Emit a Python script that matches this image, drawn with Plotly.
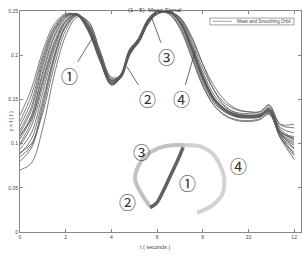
import plotly.graph_objects as go

# ---- data ----
t = [0, 0.5, 1, 1.5, 2, 2.5, 3, 3.5, 4, 4.4, 4.8, 5.2, 5.6, 6, 6.5, 7, 7.5, 8, 8.5, 9, 9.5, 10, 10.5, 10.9, 11.4, 12]

signals = [
    [.070,.078,.118,.178,.222,.243,.238,.205,.174,.174,.200,.215,.236,.247,.249,.242,.222,.190,.160,.142,.134,.132,.133,.139,.110,.088],
    [.080,.095,.140,.195,.232,.245,.235,.202,.172,.176,.203,.218,.239,.249,.249,.236,.206,.172,.148,.136,.131,.130,.131,.137,.112,.095],
    [.088,.105,.150,.200,.234,.246,.234,.200,.170,.178,.206,.216,.237,.248,.250,.238,.210,.176,.151,.139,.133,.132,.132,.140,.116,.105],
    [.094,.112,.158,.206,.237,.246,.231,.198,.168,.175,.204,.219,.240,.249,.247,.230,.198,.165,.143,.131,.126,.125,.127,.133,.106,.082],
    [.098,.120,.165,.210,.238,.246,.232,.201,.171,.177,.203,.214,.235,.247,.250,.241,.214,.181,.155,.141,.135,.134,.134,.141,.118,.112],
    [.100,.125,.172,.215,.240,.247,.230,.197,.168,.174,.200,.217,.237,.248,.249,.237,.208,.174,.149,.137,.131,.130,.131,.136,.110,.098],
    [.105,.130,.178,.220,.242,.246,.229,.196,.169,.176,.205,.220,.241,.250,.248,.233,.203,.169,.146,.135,.130,.129,.130,.135,.107,.090],
    [.108,.132,.182,.222,.243,.247,.231,.199,.172,.178,.207,.218,.238,.248,.250,.239,.212,.178,.152,.139,.133,.132,.133,.139,.114,.104],
    [.112,.138,.188,.226,.244,.246,.228,.195,.167,.175,.202,.216,.236,.247,.249,.243,.220,.190,.165,.148,.139,.136,.136,.143,.121,.118],
    [.115,.142,.192,.228,.245,.246,.229,.197,.169,.176,.203,.217,.238,.248,.249,.236,.207,.173,.148,.136,.130,.129,.130,.136,.111,.100],
    [.120,.148,.196,.230,.245,.245,.228,.196,.168,.177,.204,.215,.236,.247,.249,.239,.211,.177,.151,.138,.132,.131,.132,.138,.113,.106],
    [.125,.155,.200,.232,.246,.245,.227,.194,.167,.174,.201,.216,.237,.248,.249,.237,.209,.175,.150,.137,.131,.130,.131,.137,.109,.094],
    [.132,.162,.205,.235,.247,.245,.226,.193,.166,.175,.205,.219,.240,.249,.247,.232,.200,.166,.143,.132,.127,.126,.128,.134,.107,.086],
    [.090,.100,.135,.188,.228,.245,.237,.205,.175,.177,.202,.215,.235,.246,.249,.242,.217,.185,.160,.145,.138,.136,.136,.144,.122,.122],
    [.085,.098,.145,.198,.233,.246,.234,.201,.171,.175,.204,.218,.239,.249,.249,.237,.208,.174,.150,.138,.132,.131,.131,.138,.113,.108],
    [.110,.128,.170,.212,.238,.246,.232,.200,.172,.177,.206,.219,.239,.248,.249,.238,.210,.176,.151,.138,.132,.131,.132,.137,.112,.102],
]

# orbit sketch (in data units of the same axes)
orbit3_t = [5.69, 5.26, 5.04, 5.17, 5.52, 6.04, 6.66, 7.23]
orbit3_v = [0.0288, 0.0458, 0.0594, 0.0742, 0.0867, 0.0947, 0.0981, 0.0981]
orbit4_t = [7.23, 7.88, 8.41, 8.76, 8.94, 8.85, 8.41, 7.75]
orbit4_v = [0.0981, 0.0969, 0.0890, 0.0753, 0.0594, 0.0424, 0.0299, 0.0219]
orbit1_t = [5.69, 5.96, 6.26, 6.61, 6.92, 7.14]
orbit1_v = [0.0276, 0.0322, 0.0458, 0.0651, 0.0822, 0.0958]

x_ticks = [0, 2, 4, 6, 8, 10, 12]
y_ticks = [0, 0.05, 0.1, 0.15, 0.2, 0.25]
y_tick_labels = ["0", "0.05", "0.1", "0.15", "0.2", "0.25"]

fig = go.Figure()
for s in signals:
    fig.add_trace(go.Scatter(x=t, y=s, mode="lines", line=dict(color="#5a5a5a", width=0.8, shape="spline"),
                             showlegend=False, hoverinfo="skip"))

fig.add_trace(go.Scatter(x=orbit4_t, y=orbit4_v, mode="lines", line=dict(color="#d2d2d2", width=4, shape="spline"), showlegend=False))
fig.add_trace(go.Scatter(x=orbit3_t, y=orbit3_v, mode="lines", line=dict(color="#c2c2c2", width=4, shape="spline"), showlegend=False))
fig.add_trace(go.Scatter(x=orbit1_t, y=orbit1_v, mode="lines", line=dict(color="#626262", width=3.5, shape="spline"), showlegend=False))

circ_font = dict(family="Noto Sans CJK JP", size=17, color="#333333")
ann = []
# labelled leaders: (tip_t, tip_v, ax, ay, label)
for tx, tv, ax, ay, lab in [(3.20, 0.2208, -24, 39, "①"), (4.69, 0.1867, 20, 32, "②"),
                            (5.78, 0.2413, 14, 38, "③"), (7.67, 0.2049, -14, 48, "④")]:
    ann.append(dict(x=tx, y=tv, xref="x", yref="y", text=lab, showarrow=True, arrowhead=0,
                    arrowwidth=0.8, arrowcolor="#444444", ax=ax, ay=ay, font=circ_font))
for tx, tv, lab in [(5.30, 0.0913, "③"), (9.55, 0.0753, "④"), (7.31, 0.0560, "①"), (4.69, 0.0344, "②")]:
    ann.append(dict(x=tx, y=tv, xref="x", yref="y", text=lab, showarrow=False, font=circ_font))

small = dict(family="Liberation Sans", size=5, color="#444444")
ann.append(dict(x=0.48, y=1.027, xref="paper", yref="paper", text="(1－5)  Mean Signal", showarrow=False,
                font=dict(family="Liberation Sans", size=6, color="#333333")))
ann.append(dict(x=0.48, y=-0.07, xref="paper", yref="paper", text="t ( seconds )", showarrow=False,
                yanchor="middle", font=dict(family="Liberation Sans", size=5.5, color="#444444")))
ann.append(dict(x=-0.053, y=0.5, xref="paper", yref="paper", text="y = f ( t )", showarrow=False, textangle=-90,
                font=dict(family="Liberation Sans", size=5.5, color="#444444")))
ann.append(dict(x=0.765, y=0.953, xref="paper", yref="paper", text="Mean and Smoothing Orbit", showarrow=False,
                xanchor="left", yanchor="middle", font=dict(family="Liberation Sans", size=4.5, color="#444444")))

shapes = [
    dict(type="rect", xref="paper", yref="paper", x0=0.676, x1=0.975, y0=0.937, y1=0.968,
         line=dict(color="#777777", width=0.7), fillcolor="white", layer="above"),
    dict(type="line", xref="paper", yref="paper", x0=0.687, x1=0.754, y0=0.953, y1=0.953,
         line=dict(color="#666666", width=0.6), layer="above"),
]

axis_common = dict(showgrid=False, zeroline=False, showline=True, linecolor="#888888", linewidth=1,
                   mirror="ticks", ticks="inside", ticklen=3, tickcolor="#888888", tickfont=small)

fig.update_layout(
    width=302, height=264,
    margin=dict(l=20, r=1, t=11, b=32),
    paper_bgcolor="white", plot_bgcolor="white",
    xaxis=dict(range=[0, 12.3], tickvals=x_ticks, **axis_common),
    yaxis=dict(range=[0, 0.25], tickvals=y_ticks, ticktext=y_tick_labels, **axis_common),
    annotations=ann, shapes=shapes, showlegend=False,
)

fig.write_html("out.html")
